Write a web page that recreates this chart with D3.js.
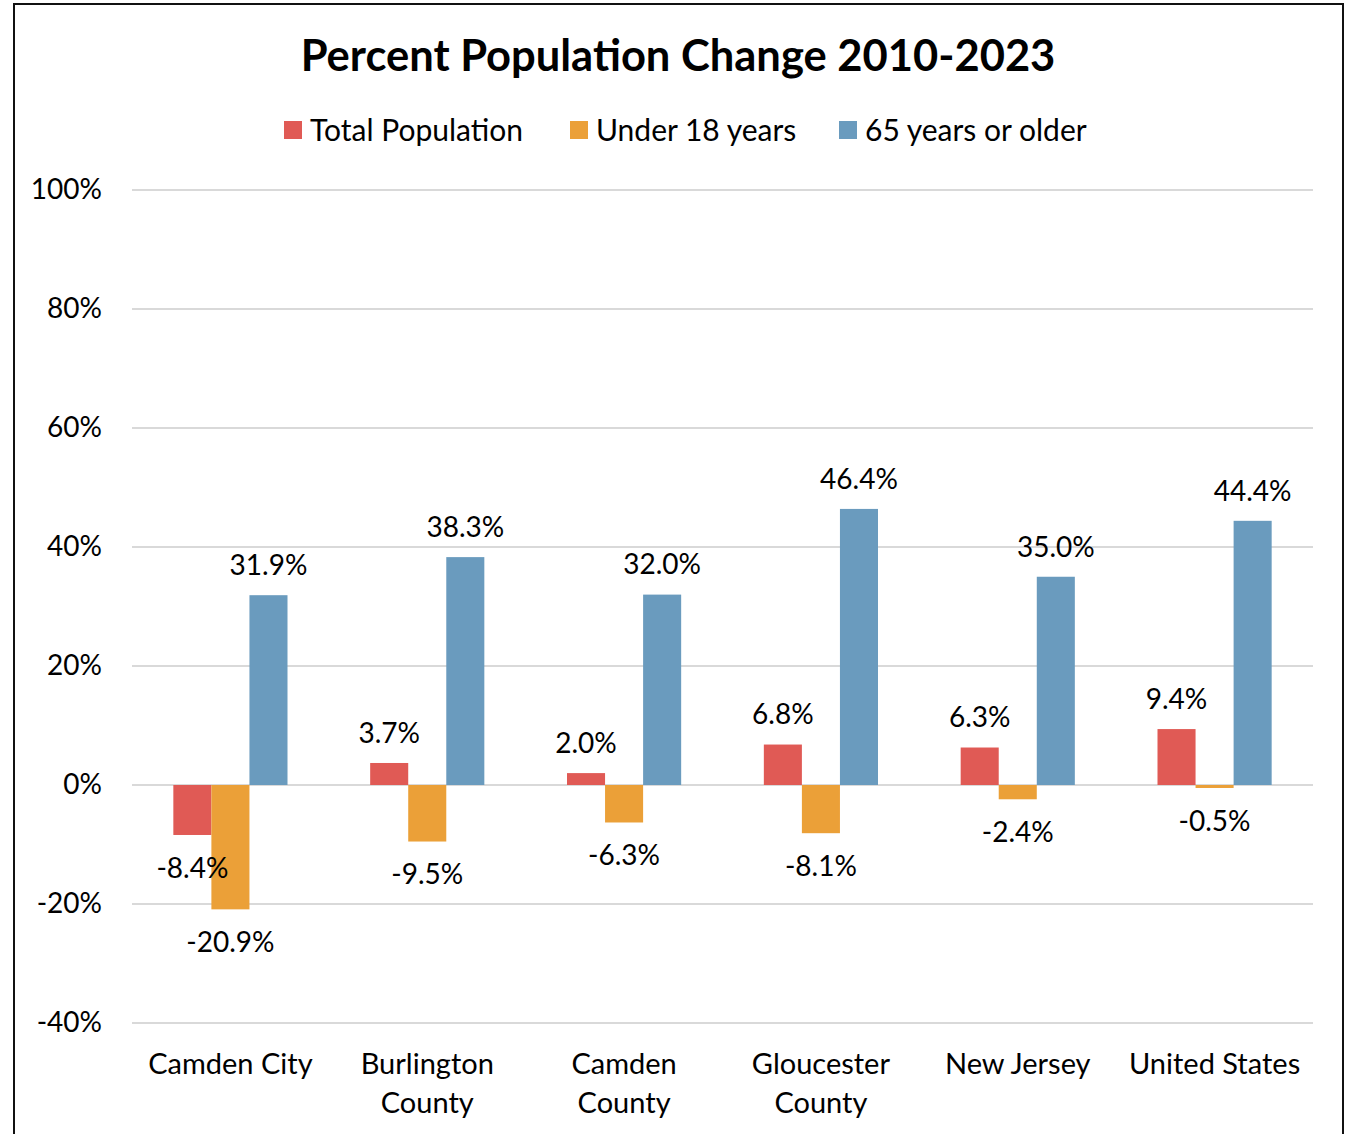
<!DOCTYPE html>
<html>
<head>
<meta charset="utf-8">
<script src="https://cdn.jsdelivr.net/npm/d3@7"></script>
<style>
  body { margin: 0; background: #fff; }
  svg { display: block; font-family: Lato, "Open Sans", sans-serif; }
</style>
</head>
<body>
<div id="chart"></div>
<script>
// chart data
const categories = ['Camden City', 'Burlington County', 'Camden County', 'Gloucester County', 'New Jersey', 'United States'];
const seriesNames = ['Total Population', 'Under 18 years', '65 years or older'];
const totalPop = [-8.4, 3.7, 2.0, 6.8, 6.3, 9.4];
const under18 = [-20.9, -9.5, -6.3, -8.1, -2.4, -0.5];
const over65 = [31.9, 38.3, 32.0, 46.4, 35.0, 44.4];
const yTicks = [-40, -20, 0, 20, 40, 60, 80, 100];
const colors = ['#e05a55', '#eba038', '#6a9bbe'];

const W = 1349, H = 1134;
const margin = { top: 190, right: 36, bottom: 111, left: 132 };

const svg = d3.select('#chart').append('svg')
  .attr('width', W)
  .attr('height', H);

// outer frame
svg.append('rect')
  .attr('x', 14).attr('y', 4)
  .attr('width', 1329).attr('height', H + 10)
  .attr('fill', 'none')
  .attr('stroke', '#111')
  .attr('stroke-width', 2);

const x = d3.scaleBand()
  .domain(categories)
  .range([margin.left, W - margin.right])
  .paddingInner(0.42)
  .paddingOuter(0.21);

const xs = d3.scaleBand()
  .domain(seriesNames)
  .range([0, x.bandwidth()]);

const y = d3.scaleLinear()
  .domain([-40, 100])
  .range([H - margin.bottom, margin.top]);

// gridlines
svg.append('g')
  .selectAll('line')
  .data(yTicks)
  .join('line')
  .attr('x1', margin.left)
  .attr('x2', W - margin.right)
  .attr('y1', d => y(d))
  .attr('y2', d => y(d))
  .attr('stroke', '#d9d9d9')
  .attr('stroke-width', 2);

// y axis labels
const yAxis = d3.axisLeft(y).tickValues(yTicks).tickFormat(d => d + '%').tickSize(0).tickPadding(0);
svg.append('g')
  .attr('transform', `translate(${margin.left - 30},0)`)
  .call(yAxis)
  .call(g => g.select('.domain').remove())
  .selectAll('text')
  .attr('font-size', 28)
  .attr('font-family', 'Lato, sans-serif')
  .attr('fill', '#000');

// bars
const rows = categories.map((c, i) => ({
  cat: c,
  values: [totalPop[i], under18[i], over65[i]].map((v, j) => ({ name: seriesNames[j], v, j }))
}));

const groups = svg.append('g')
  .selectAll('g')
  .data(rows)
  .join('g')
  .attr('transform', d => `translate(${x(d.cat)},0)`);

groups.selectAll('rect')
  .data(d => d.values)
  .join('rect')
  .attr('x', d => xs(d.name))
  .attr('width', xs.bandwidth())
  .attr('y', d => y(Math.max(0, d.v)))
  .attr('height', d => Math.abs(y(d.v) - y(0)))
  .attr('fill', d => colors[d.j]);

groups.selectAll('text.val')
  .data(d => d.values)
  .join('text')
  .attr('class', 'val')
  .attr('x', d => xs(d.name) + xs.bandwidth() / 2)
  .attr('y', d => d.v >= 0 ? y(d.v) - 30 : y(d.v) + 33)
  .attr('dy', '0.35em')
  .attr('text-anchor', 'middle')
  .attr('font-size', 28)
  .attr('fill', '#000')
  .text(d => d.v.toFixed(1) + '%');

// category labels
const xAxis = svg.append('g');
xAxis.selectAll('text')
  .data(categories)
  .join('text')
  .attr('x', d => x(d) + x.bandwidth() / 2)
  .attr('y', 1064)
  .attr('text-anchor', 'middle')
  .attr('font-size', 29)
  .attr('fill', '#000')
  .each(function (d) {
    const words = d.split(' ');
    const lines = (d === 'Camden City' || d === 'New Jersey' || d === 'United States') ? [d] : words;
    d3.select(this).selectAll('tspan')
      .data(lines)
      .join('tspan')
      .attr('x', x(d) + x.bandwidth() / 2)
      .attr('dy', (l, i) => i === 0 ? '0.35em' : '1.34em')
      .text(l => l);
  });

// title
svg.append('text')
  .attr('x', 678)
  .attr('y', 56)
  .attr('dy', '0.35em')
  .attr('text-anchor', 'middle')
  .attr('font-size', 43.5)
  .attr('font-weight', 'bold')
  .attr('fill', '#000')
  .text('Percent Population Change 2010-2023');

// legend
const legendX = [284, 570, 839];
const legend = svg.append('g')
  .selectAll('g')
  .data(seriesNames)
  .join('g')
  .attr('transform', (d, i) => `translate(${legendX[i]},130)`);

legend.append('rect')
  .attr('x', 0).attr('y', -9)
  .attr('width', 18).attr('height', 18)
  .attr('fill', (d, i) => colors[i]);

legend.append('text')
  .attr('x', 26)
  .attr('dy', '0.35em')
  .attr('font-size', 30)
  .attr('fill', '#000')
  .text(d => d);
</script>
</body>
</html>
